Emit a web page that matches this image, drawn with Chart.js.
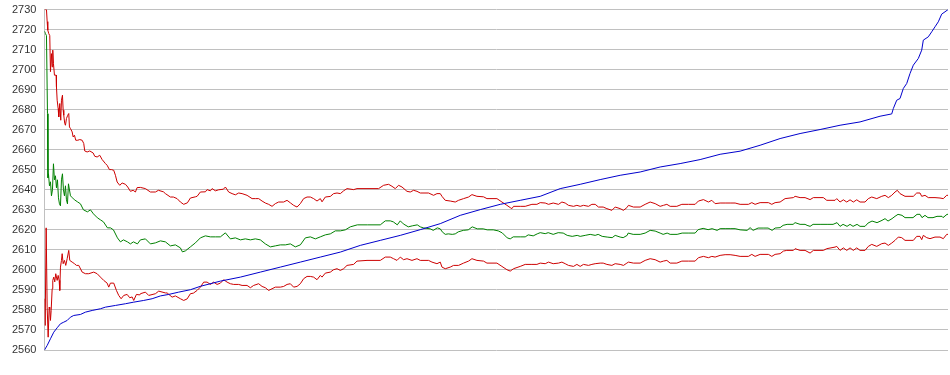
<!DOCTYPE html>
<html>
<head>
<meta charset="utf-8">
<script src="https://cdn.jsdelivr.net/npm/chart.js@4.4.1/dist/chart.umd.min.js"></script>
<style>
  html, body { margin: 0; padding: 0; background: #fff; }
  #parent { width: 950px; height: 375px; }
</style>
</head>
<body>
<div id="parent"><canvas id="myChart"></canvas></div>
<script>
// y axis
var yMin = 2560, yMax = 2730, yStep = 10;
var xMax = 904;

// running value (blue)
var blueX = [0,2.7,6,9.3,12.7,16,19.3,22.7,26,29.3,36,41,47.7,56,61,71,81,89.3,99.3,107.7,116,124.3,134.3,146,156,176,196,216,236,256,276,296,316,336,356,376,396,416,436,456,476,496,516,536,556,576,596,616,636,656,676,696,716,736,756,776,796,816,836,847.7,849.3,852.7,856,859.3,862.7,866,869.3,874.3,877.7,879.3,884.3,887.7,891,894.3,897.7,901,904];
var blueY = [2560,2562.25,2565.6,2568.9,2571.1,2573.1,2573.9,2574.75,2576.4,2577.25,2577.75,2578.9,2579.75,2580.6,2581.4,2582.25,2583.1,2583.9,2584.75,2585.6,2587,2587.75,2588.9,2590.1,2591.8,2594.4,2596.4,2598.9,2601.4,2603.9,2606.4,2608.9,2612.25,2614.75,2617.25,2620.1,2623.1,2627.25,2630.1,2632.75,2634.75,2636.75,2640.6,2642.75,2645.1,2647.25,2648.9,2651.4,2653.1,2655.1,2657.75,2659.3,2662.25,2665.6,2668.1,2670.1,2672.25,2673.9,2676.75,2677.9,2680.6,2684.75,2685.6,2690.6,2693.1,2698.1,2702.25,2705.6,2709.75,2714.75,2716.4,2718.9,2721.4,2723.9,2727.75,2728.9,2730];

// mean (green)
var meanX = [0,1,2,3,3.5,4,5,6,7,8,9,10,11,12,13,14,15,16,17,18,19,20,21,22,23,24,26,28,30,33,36,39,43,46,49,53,56,59,63,66,69,73,76,79,83,86,89,93,96,101,106,111,116,121,126,131,136,138,141,146,151,156,161,166,171,176,181,186,191,196,201,206,211,216,221,226,231,236,241,246,251,256,261,266,271,276,281,286,291,296,301,306,313,323,336,341,346,349,353,356,359,364,368,373,376,379,386,389,393,396,398,401,404,408,411,414,419,424,428,433,439,443,449,454,458,463,466,469,476,481,484,489,493,496,501,504,509,514,519,523,528,533,536,541,546,551,554,558,563,568,571,576,579,583,584,589,596,601,606,611,616,619,623,626,633,638,644,651,654,659,664,668,673,676,681,686,691,696,703,706,709,714,719,724,728,731,736,739,743,749,751,756,761,763,766,769,776,783,789,793,796,799,803,806,809,813,816,821,824,828,833,838,841,844,848,851,854,858,861,866,869,873,876,878,881,884,889,893,898,899,903,904];
var meanY = [2719.25,2718,2717,2678,2646,2648,2642,2644,2637,2640,2653,2645,2647,2641,2645,2636,2633,2632,2645,2648,2640,2637,2642,2635,2633,2643,2637,2636,2635,2634,2633,2630,2629,2630,2628,2626,2625,2624,2621,2621,2620,2616,2614,2615,2614,2613,2614,2613,2615,2615.5,2613,2613.5,2614.5,2614,2612,2612.5,2611,2609,2609.5,2611.5,2613.5,2616,2617,2616.5,2616.5,2616.5,2618.5,2615.5,2616,2615,2615.5,2615,2615.5,2615,2613,2611.5,2612,2612.5,2612.5,2613,2611.5,2612.5,2616,2616.5,2615.5,2616.5,2617.5,2618,2619.5,2619.5,2620,2621.5,2622.5,2622.5,2622.5,2624.5,2624.5,2624,2622.5,2624.5,2623,2621.5,2622,2622.5,2621.5,2621,2620.5,2619.75,2621,2620.5,2619,2617.75,2618,2617.75,2618,2619,2619.75,2620,2621.5,2620.5,2620.5,2620,2620,2619.5,2618.5,2616,2615.5,2616.5,2616.5,2616.5,2617.5,2617,2618,2618.6,2618.1,2618.6,2617.75,2618.6,2618.4,2617.25,2616.75,2617.25,2616.75,2617.25,2617.75,2617.25,2617.75,2616.75,2616.4,2616.1,2617.25,2616.4,2616.1,2617.25,2618.4,2617.75,2617.75,2618.4,2619.75,2619.4,2618.4,2617.75,2618.4,2617.75,2617.75,2618.4,2618.4,2618.4,2620.1,2620.75,2620.1,2620.6,2619.75,2620.6,2620.6,2620.6,2620.6,2620,2619.75,2621.1,2619.75,2620.9,2620.9,2620.9,2619.75,2620.9,2621.1,2622.25,2622.75,2622.75,2623.6,2622.75,2622.75,2622.25,2621.75,2622.75,2622.75,2622.75,2622.75,2623.6,2621.75,2622.75,2621.75,2622.75,2621.75,2622.75,2621.75,2621.75,2623.4,2624.4,2623.6,2624.75,2625.6,2624.4,2625.6,2626.75,2627.75,2627.25,2626.1,2626.1,2626.1,2627.75,2627.75,2626.1,2627.25,2626.1,2626.1,2626.75,2626.75,2626.1,2627.75,2627.75];

// upper band (red)
var upperX = [0,1,2,2.7,3.3,4.3,5.3,6,7,7.7,8.3,9,10,11.7,12,12.7,13.7,14.3,15.3,16.3,17,18,18.7,19.3,20.3,21,22,23.3,24.3,25,26,27.7,28.7,30,31.3,33.3,35.3,37.7,39.3,40.3,42.7,45.3,48.7,50.3,52.7,55.3,57.7,61,62.7,65,67,69.3,71,72.7,75.3,77.7,81,83.3,86,88.7,91,92.7,96,101,106,111,114,119,121,126,129,132.7,136,139.3,143,146,151,152.7,156,161,162.7,166,167.7,171,174.3,179,181,184.3,187.7,191,194.3,197.7,202.7,207.7,211,214.3,217.7,221,224.3,227.7,231,234.3,239.3,242.7,246,249.3,252.7,256,259.3,262.7,266,269.3,272.7,276,277.7,281,286,289.3,292.7,296,299.3,302.7,309.3,312.7,322.7,334.3,339.3,344.3,347.7,351,354.3,357.7,362.7,366,369.3,372.7,376,384.3,389.3,392.7,396,397.7,401,406,411,414.3,419.3,424.3,427.7,432.7,439.3,442.7,452.7,457.7,462.7,466,467.7,469.3,476,481,487.7,492.7,496,501,504.3,509,514.3,517.7,521,524.3,529.3,532.7,536,539.3,544.3,547.7,551,554.3,559,562.7,567.7,571,576,579.3,582.7,584.3,589.3,596,601,606,611,616,619.3,622.7,626,632.7,637.7,644.3,651,654.3,659.3,664.3,667.7,671,676,681,686,691,696,704.3,707.7,711,716,724.3,727.7,731,736,741,749.3,751,756,761,766,769.3,779.3,782.7,791,792.7,796,799.3,802.7,806,809.3,812.7,816,821,824.3,827.7,832.7,837.7,841,844.3,847.7,851,853.3,856,861,869.3,872.7,876,877.7,881,884.3,891,896,899.3,902.7,904];
var upperY = [2730,2730,2730,2724,2719.75,2718,2717,2699,2708,2701.4,2709.75,2703,2697.25,2697.25,2691.4,2684.75,2680.6,2676.4,2683.1,2674.75,2684.75,2687.25,2679.75,2677.25,2673.1,2672.25,2675.6,2677.25,2678.1,2671.4,2670.6,2668.9,2666.4,2667.25,2664.75,2664.75,2665.1,2664.75,2663.1,2659.4,2658.9,2659.4,2658.4,2656.75,2656.4,2657.25,2655.1,2653.1,2652.25,2650.1,2650.1,2649.75,2647.25,2643.9,2642.25,2643.4,2642.75,2641.4,2639.25,2639.75,2638.9,2641.1,2641.2,2640.6,2638.9,2638.9,2639.75,2639,2638.1,2636.4,2636.4,2635.6,2633.9,2632.75,2633.5,2635.9,2636.5,2636.75,2638.9,2639,2640.1,2639.5,2640.6,2639.5,2640,2640.3,2641.4,2638.9,2638.1,2637.5,2638.4,2638.1,2637.25,2635.6,2635.6,2635.6,2634.4,2633.4,2632.75,2631.75,2633.1,2633.9,2633.9,2634.75,2633.5,2632.25,2631.4,2633.1,2635.6,2636.4,2636.4,2635.6,2634.4,2635.6,2634,2636.4,2636.7,2638.1,2638.4,2638.1,2639.5,2640.6,2640.1,2640.6,2640.6,2640.6,2642.25,2642.75,2641.75,2640.6,2642.25,2641.4,2639.25,2638.9,2639.75,2639.25,2638.4,2638.4,2637.25,2638.1,2638.1,2636.75,2634.75,2634.4,2633.9,2634.75,2635.6,2636.4,2637.6,2636.75,2636.5,2635.6,2635.6,2633.9,2632.25,2631.1,2630.6,2631.75,2631.75,2631.75,2632.75,2632.75,2633.6,2633.4,2632.75,2633.4,2632.75,2633.9,2633.4,2632.25,2631.75,2632.25,2631.75,2632.25,2631.75,2632.75,2632.75,2631.4,2631.4,2630.6,2629.75,2631.4,2630.6,2629.75,2631.1,2632.25,2631.4,2631.4,2632.75,2633.9,2633.1,2631.75,2632.25,2632.75,2631.75,2631.75,2632.75,2632.75,2632.75,2634.4,2635.1,2633.9,2634.75,2633.1,2633.4,2633.4,2633.4,2633.4,2632.75,2632.75,2633.6,2632.75,2633.6,2633.6,2632.75,2633.6,2633.9,2635.6,2636.1,2636.75,2636.1,2636.1,2635.1,2636.1,2636.1,2634.75,2634.75,2635.6,2633.9,2635,2633.9,2635,2633.9,2635,2633.9,2633.9,2635.6,2636.4,2635.6,2636.75,2637.25,2636.1,2637.25,2638.9,2639.75,2638.1,2636.75,2636.75,2638.4,2638.4,2636.75,2637.25,2636.1,2636.1,2635.9,2635.6,2637.25,2637.25];

// lower band (red)
var lowerX = [0.3,0.7,1.7,2.7,3.7,4.7,5.3,6,6.7,7.7,8.3,9.3,10.3,11.3,12.7,13.7,14.7,15.3,16,17,17.7,18.7,20,21.3,22.7,24.3,25.3,27.7,30,32,34.3,37.7,41,44.3,49.3,52.7,56,59.3,62.7,64.3,66,69.3,72,74.3,76.7,79.3,82.7,85.3,87.7,89.3,92,95.3,96,101,104.3,111,114.3,121,122.7,127.7,131,136,139.3,142.7,146,149,152.7,156,159.3,162.7,166,169.3,172.7,176,179.3,182.7,186,189.3,194.3,197.7,202.7,206,209.3,214.3,217.7,221,224.3,227.7,231,236,239.3,242.7,246,249.3,252.7,256,259.3,262.7,266,269.3,272.7,276,277.7,281,286,289.3,292.7,296,299.3,302.7,309.3,312.7,322.7,336,341,346,349.3,352.7,356,359.3,362.7,367.7,372.7,376,384.3,387.7,392.7,396,397.7,401,406,409.3,414.3,419.3,424.3,427.7,432.7,439.3,442.7,452.7,457.7,462.7,466,469.3,476,481,487.7,492.7,496,501,504.3,509,514.3,517.7,521,524.3,529.3,532.7,536,539.3,544.3,547.7,551,556,559,562.7,567.7,571,576,579.3,582.7,584.3,589.3,596,601,606,611,616,619.3,622.7,626,632.7,637.7,644.3,651,654.3,659.3,664.3,667.7,671,676,681,686,691,696,704.3,707.7,711,716,724.3,727.7,731,736,739.3,742.7,749.3,751,756,761,766,769.3,779.3,782.7,791,792.7,796,799.3,802.7,806,809.3,812.7,816,821,824.3,827.7,832.7,837.7,841,844.3,847.7,851,854.3,857.7,861,869.3,872.7,876,877.7,879.3,882.7,886,891,896,899.3,902.7,904];
var lowerY = [2585.6,2572.25,2621,2581.4,2566.4,2581.4,2580.6,2574.75,2579.75,2590.6,2594.75,2596.4,2594,2598.1,2594.75,2597.25,2594.75,2589.75,2601.4,2604.75,2608.1,2603.1,2604.75,2602.25,2605.6,2609.75,2604.75,2603.9,2603.1,2602.25,2602.25,2598.9,2598.1,2598.1,2598.9,2598.1,2596.4,2594.75,2593.4,2591.4,2593.4,2593.4,2589.75,2587.25,2585.6,2587.25,2587.75,2586.1,2586.5,2584.75,2587.75,2587.5,2588.1,2588.9,2587.25,2588.1,2589.4,2588.5,2588.5,2586.4,2587,2585.6,2584.75,2585.5,2588.1,2588.4,2589.75,2591.4,2593.9,2593.9,2592.75,2593.9,2592.75,2593.4,2595.1,2593.9,2593.1,2592.75,2592.75,2592.25,2592.25,2591.1,2592.25,2593.1,2591.75,2591.1,2589.75,2590.6,2591.4,2591.4,2591.75,2592.75,2593.1,2591.4,2591.75,2593.1,2595.6,2596.75,2596.75,2596.4,2595.1,2597.25,2596.4,2598.4,2598.9,2600.1,2600.6,2599.75,2600.6,2602.25,2602.75,2604.4,2604.75,2604.75,2606.4,2606.4,2605.6,2604.75,2606.4,2605.1,2605.6,2604.75,2605.6,2604.75,2604.75,2603.9,2603.1,2603.9,2601.4,2600.6,2601.4,2602.25,2602.25,2603.4,2604.4,2605.6,2604.75,2604.4,2603.4,2603.4,2601.75,2600.1,2599.4,2600.6,2601.75,2602.75,2602.75,2602.75,2603.4,2603.1,2603.9,2603.1,2603.4,2603.9,2603.1,2602.25,2601.75,2602.75,2601.75,2602.75,2602.25,2602.75,2603.1,2603.4,2603.4,2602.75,2602.25,2603.1,2602.75,2602.25,2603.4,2603.9,2603.4,2603.4,2604.75,2605.6,2605.1,2603.9,2604.4,2604.75,2603.4,2603.4,2604.4,2604.4,2604.4,2606.1,2606.75,2606.1,2606.75,2606.4,2607.25,2607.6,2607.6,2607.25,2606.75,2606.75,2607.75,2606.75,2607.75,2607.75,2606.75,2607.75,2608.1,2609.4,2609.75,2609.75,2610.6,2609.75,2609.75,2608.4,2609.75,2609.75,2610.6,2611.4,2611.75,2609.75,2611,2609.75,2611,2609.75,2611,2609.75,2609.75,2611.75,2612.75,2611.75,2613.1,2613.4,2612.25,2613.4,2614.75,2616.4,2616.1,2614.75,2614.75,2616.75,2616.75,2615.1,2617.25,2616.1,2615.6,2616.4,2616.4,2615.6,2617.75,2617.75];

function points(xs, ys) {
    var out = [];
    for (var i = 0; i < xs.length; i++) {
        out.push({x: xs[i], y: ys[i]});
    }
    return out;
}

function line(data, color) {
    return {
        data: data,
        borderColor: color,
        backgroundColor: color,
        borderWidth: 1,
        pointRadius: 0,
        tension: 0
    };
}

var ctx = document.getElementById('myChart');

new Chart(ctx, {
    type: 'line',
    data: {
        datasets: [
            line(points(blueX, blueY), '#0000cc'),
            line(points(upperX, upperY), '#cc0000'),
            line(points(meanX, meanY), '#008000'),
            line(points(lowerX, lowerY), '#cc0000')
        ]
    },
    options: {
        responsive: true,
        maintainAspectRatio: false,
        animation: false,
        layout: { padding: { left: 9, right: 2, top: 0, bottom: 25 } },
        plugins: { legend: { display: false }, tooltip: { enabled: false } },
        scales: {
            x: { type: 'linear', min: 0, max: xMax, display: false },
            y: {
                min: yMin,
                max: yMax,
                border: { color: '#c0c0c0' },
                grid: { color: '#c0c0c0', drawTicks: true, tickLength: 5, tickColor: 'rgba(0,0,0,0)' },
                ticks: {
                    stepSize: yStep,
                    padding: 3,
                    color: '#333',
                    font: { family: 'Arial, "Liberation Sans"', size: 11 },
                    callback: function (v) { return String(v); }
                }
            }
        }
    }
});
</script>
</body>
</html>
